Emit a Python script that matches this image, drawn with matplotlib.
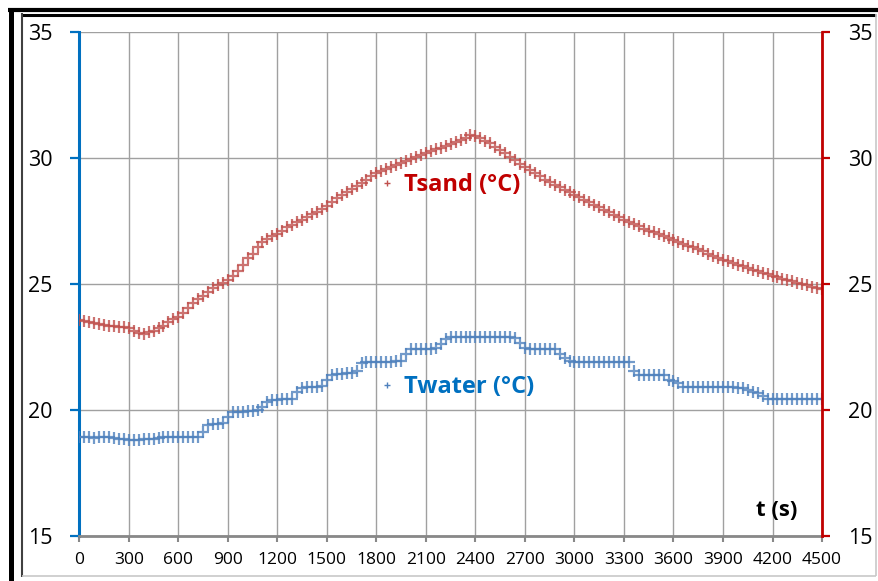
import matplotlib
matplotlib.use("Agg")
import matplotlib.pyplot as plt
from matplotlib.lines import Line2D

plt.rcParams["font.family"] = ["Open Sans", "DejaVu Sans"]

# ── 데이터 (30 s 간격) ─────────────────────────────────────────────
t = list(range(0, 4501, 30))

t_sand = [
    23.55, 23.52, 23.50, 23.45, 23.42, 23.38, 23.35, 23.32, 23.30, 23.28,
    23.25, 23.15, 23.05, 23.02, 23.08, 23.15, 23.25, 23.35, 23.48, 23.60,
    23.70, 23.85, 24.05, 24.25, 24.40, 24.52, 24.68, 24.85, 24.95, 25.05,
    25.15, 25.30, 25.50, 25.75, 26.02, 26.20, 26.45, 26.65, 26.80, 26.90,
    27.00, 27.12, 27.25, 27.35, 27.45, 27.55, 27.68, 27.78, 27.88, 27.98,
    28.10, 28.25, 28.40, 28.52, 28.65, 28.78, 28.90, 29.02, 29.15, 29.28,
    29.40, 29.48, 29.57, 29.65, 29.73, 29.82, 29.90, 29.98, 30.05, 30.12,
    30.20, 30.28, 30.35, 30.42, 30.50, 30.58, 30.65, 30.73, 30.82, 30.90,
    30.88, 30.80, 30.70, 30.60, 30.45, 30.32, 30.20, 30.05, 29.92, 29.78,
    29.65, 29.52, 29.40, 29.28, 29.15, 29.05, 28.95, 28.85, 28.75, 28.65,
    28.55, 28.45, 28.35, 28.25, 28.15, 28.05, 27.95, 27.85, 27.75, 27.65,
    27.55, 27.47, 27.38, 27.30, 27.20, 27.12, 27.05, 26.98, 26.90, 26.82,
    26.75, 26.68, 26.60, 26.52, 26.45, 26.38, 26.30, 26.20, 26.12, 26.04,
    25.96, 25.90, 25.83, 25.76, 25.70, 25.62, 25.55, 25.50, 25.45, 25.38,
    25.33, 25.26, 25.20, 25.15, 25.10, 25.05, 25.00, 24.95, 24.90, 24.86,
    24.82,
]

t_water = [
    18.92, 18.93, 18.92, 18.90, 18.93, 18.92, 18.91, 18.90, 18.85, 18.83,
    18.80, 18.82, 18.80, 18.83, 18.85, 18.86, 18.90, 18.92, 18.93, 18.93,
    18.93, 18.93, 18.94, 18.93, 18.94, 19.10, 19.40, 19.42, 19.45, 19.48,
    19.70, 19.90, 19.92, 19.93, 19.95, 19.95, 19.98, 20.10, 20.30, 20.40,
    20.40, 20.42, 20.45, 20.45, 20.70, 20.88, 20.90, 20.90, 20.92, 20.95,
    21.20, 21.40, 21.42, 21.43, 21.45, 21.48, 21.55, 21.88, 21.90, 21.90,
    21.90, 21.90, 21.92, 21.92, 21.93, 21.95, 22.20, 22.40, 22.42, 22.42,
    22.42, 22.43, 22.45, 22.60, 22.80, 22.88, 22.88, 22.90, 22.90, 22.90,
    22.90, 22.90, 22.90, 22.90, 22.90, 22.90, 22.90, 22.88, 22.85, 22.65,
    22.45, 22.42, 22.42, 22.42, 22.42, 22.40, 22.40, 22.20, 22.05, 21.95,
    21.92, 21.92, 21.92, 21.92, 21.92, 21.92, 21.92, 21.92, 21.92, 21.92,
    21.92, 21.90, 21.55, 21.40, 21.40, 21.40, 21.40, 21.40, 21.38, 21.20,
    21.15, 21.05, 20.92, 20.90, 20.90, 20.90, 20.90, 20.90, 20.90, 20.90,
    20.90, 20.90, 20.90, 20.88, 20.85, 20.80, 20.72, 20.65, 20.55, 20.45,
    20.42, 20.42, 20.42, 20.42, 20.42, 20.42, 20.42, 20.42, 20.42, 20.42,
    20.42,
]

x_ticks = list(range(0, 4501, 300))
y_ticks = [15, 20, 25, 30, 35]

SAND = "#C0504D"
WATER = "#4F81BD"
RED_AX = "#C00000"
BLUE_AX = "#0070C0"
GRID = "#A0A0A0"

# ── 그림 ─────────────────────────────────────────────────────────────
fig = plt.figure(figsize=(8.79, 5.81), dpi=100)
ax = fig.add_axes([0.0902, 0.078, 0.845, 0.8664])

ax.plot(t, t_sand, linestyle="none", marker="+", ms=9, mew=1.6,
        color=SAND, alpha=0.8, zorder=3)
ax.plot(t, t_water, linestyle="none", marker="+", ms=8, mew=1.6,
        color=WATER, alpha=0.8, zorder=3)

ax.set_xlim(0, 4500)
ax.set_ylim(15, 35)
ax.set_xticks(x_ticks)
ax.set_yticks(y_ticks)
ax.grid(True, color=GRID, linewidth=1.0, zorder=0)
ax.set_axisbelow(True)

ax.spines["top"].set_visible(False)
ax.spines["right"].set_visible(False)
ax.spines["left"].set_color(BLUE_AX)
ax.spines["left"].set_linewidth(2.2)
ax.spines["bottom"].set_color("#888888")
ax.spines["bottom"].set_linewidth(2.0)
ax.tick_params(axis="y", direction="out", length=6.5, width=1.6,
               color=BLUE_AX, labelsize=15.5, pad=13)
ax.tick_params(axis="x", direction="out", length=4, width=1.5,
               color="#888888", labelsize=12.5, pad=8)

ax2 = ax.twinx()
ax2.set_ylim(15, 35)
ax2.set_yticks(y_ticks)
for s in ["top", "left", "bottom"]:
    ax2.spines[s].set_visible(False)
ax2.spines["right"].set_color(RED_AX)
ax2.spines["right"].set_linewidth(2.0)
ax2.tick_params(axis="y", direction="out", length=6, width=1.6,
                color=RED_AX, labelsize=15.5, pad=13)

# 범례 (그래프 안)
h_sand = Line2D([], [], linestyle="none", marker="+", ms=5, mew=1.0, color=SAND)
h_water = Line2D([], [], linestyle="none", marker="+", ms=5, mew=1.0, color=WATER)
leg_kw = dict(loc="center left", frameon=False, handlelength=0.5,
              handletextpad=0.47, borderpad=0, borderaxespad=0,
              prop={"weight": "bold", "size": 17})
leg1 = ax2.legend([h_sand], ["Tsand (°C)"], bbox_to_anchor=(0.4064, 0.6967),
                  labelcolor=RED_AX, **leg_kw)
ax2.add_artist(leg1)
ax2.legend([h_water], ["Twater (°C)"], bbox_to_anchor=(0.4064, 0.2954),
           labelcolor=BLUE_AX, **leg_kw)

ax.text(0.939, 0.051, "t (s)", transform=ax.transAxes, ha="center",
        va="center", fontsize=16, fontweight="bold", color="black")

# 바깥 테두리
W, H = 879.0, 581.0
def fline(x0, y0, x1, y1, color, lw):
    fig.add_artist(Line2D([x0 / W, x1 / W], [1 - y0 / H, 1 - y1 / H],
                          color=color, linewidth=lw, solid_capstyle="butt"))

fline(10.5, 8, 10.5, 581, "black", 3.6)
fline(8, 10, 879, 10, "black", 3.0)
fline(21, 14.5, 876, 14.5, "black", 2.2)
fline(22, 13, 22, 577, "#404040", 1.5)
fline(22, 576, 876, 576, "#C8C8C8", 1.2)
fline(876, 14, 876, 576, "#C8C8C8", 1.2)

fig.savefig("out.png", dpi=100)
